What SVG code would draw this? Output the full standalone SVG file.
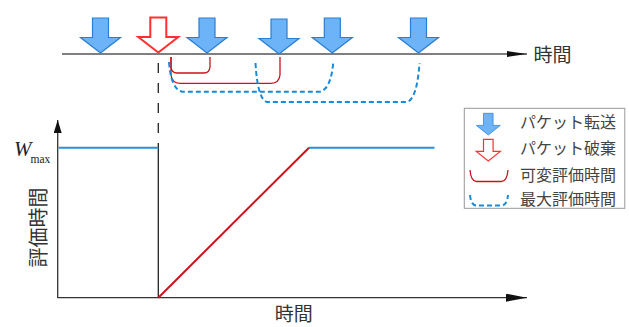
<svg xmlns="http://www.w3.org/2000/svg" xmlns:xlink="http://www.w3.org/1999/xlink" width="629" height="327" viewBox="0 0 629 327">
<style>
.axis{stroke:#555;stroke-width:1.5;fill:none}
.axis2{stroke:#333;stroke-width:1.3;fill:none}
.fwd{fill:#6db3f8;stroke:#2a7ed2;stroke-width:1.2}
.drop{fill:#fff;stroke:#ff3030;stroke-width:2}
.var{fill:none;stroke:#cc1020;stroke-width:1.3}
.max{fill:none;stroke:#1a8ad8;stroke-width:2;stroke-dasharray:5 3}
.lbl{font-family:"Noto Sans CJK JP","Noto Sans CJK SC",sans-serif;fill:#333}
.leg{font-family:"Noto Sans CJK JP","Noto Sans CJK SC",sans-serif;font-size:16px;fill:#444}
</style>
<defs>
<path id="arr" d="M-8,-35 H8 V-15.5 H20 L0,0 L-20,-15.5 H-8 Z"/>
<marker id="ah" viewBox="0 0 20 6" refX="20" refY="3" markerWidth="20" markerHeight="6" markerUnits="userSpaceOnUse" orient="auto"><path d="M0,0 L20,3 L0,6 Z" fill="#111"/></marker>
<marker id="ah2" viewBox="0 0 21 8" refX="21" refY="4" markerWidth="21" markerHeight="8" markerUnits="userSpaceOnUse" orient="auto"><path d="M0,0 L21,4 L0,8 Z" fill="#111"/></marker>
<marker id="ah3" viewBox="0 0 13 8" refX="13" refY="4" markerWidth="13" markerHeight="8" markerUnits="userSpaceOnUse" orient="auto"><path d="M0,0 L13,4 L0,8 Z" fill="#111"/></marker>
</defs>

<g id="timeline">
<line class="axis" x1="62" y1="54" x2="527" y2="54" marker-end="url(#ah)"/>
<text class="lbl" x="552.5" y="62" font-size="19" text-anchor="middle">時間</text>
</g>

<g id="packets">
<use xlink:href="#arr" class="fwd" transform="translate(100.5,53)"/>
<use xlink:href="#arr" class="drop" transform="translate(158.3,52.5)"/>
<use xlink:href="#arr" class="fwd" transform="translate(207,53)"/>
<use xlink:href="#arr" class="fwd" transform="translate(279,54)"/>
<use xlink:href="#arr" class="fwd" transform="translate(332.3,53)"/>
<use xlink:href="#arr" class="fwd" transform="translate(418.5,53)"/>
</g>

<g id="connectors">
<line x1="158.3" y1="63" x2="158.3" y2="148" stroke="#222" stroke-width="1.3" stroke-dasharray="10 10"/>
<path class="var" d="M171,57 V67 Q171.5,73 177,73 H204 Q209.5,73 210,67 V57"/>
<path class="var" d="M171,57 V75 Q172,83.3 180,83.3 H271 Q279,83.3 280,75 V57"/>
<path class="max" d="M169,62 Q171,89 182,91.7 H320 Q331,89 333.3,62"/>
<path class="max" d="M255.5,63 Q257.5,99 267,102 H407 Q417,99 419.5,63"/>
</g>

<g id="chart">
<line class="axis2" x1="57.7" y1="298" x2="57.7" y2="120" marker-end="url(#ah3)"/>
<line class="axis2" x1="57.7" y1="297.7" x2="527" y2="297.7" marker-end="url(#ah2)"/>
<line x1="158.3" y1="148" x2="158.3" y2="297.7" stroke="#222" stroke-width="1.3"/>
<line x1="58.5" y1="147.7" x2="158.3" y2="147.7" stroke="#2a8fd8" stroke-width="2"/>
<line x1="309" y1="147.7" x2="434.5" y2="147.7" stroke="#2a8fd8" stroke-width="2"/>
<line x1="158.3" y1="297.7" x2="309" y2="147.7" stroke="#d0101a" stroke-width="2"/>
<text x="14" y="156" font-family="Liberation Serif,serif" font-style="italic" font-size="21" fill="#222">W</text>
<text x="30.5" y="162.5" font-family="Liberation Serif,serif" font-size="11.5" fill="#222">max</text>
<text class="lbl" font-size="20" text-anchor="middle" transform="translate(45.5,227.5) rotate(-90)">評価時間</text>
<text class="lbl" x="293.7" y="321" font-size="19" text-anchor="middle">時間</text>
</g>

<g id="legend">
<rect x="464.3" y="108.3" width="160.5" height="100" fill="#fff" stroke="#999" stroke-width="1"/>
<use xlink:href="#arr" class="fwd" transform="translate(488.3,135) scale(0.6,0.62)"/>
<use xlink:href="#arr" class="drop" transform="translate(488.3,161) scale(0.6,0.62)" stroke-width="3"/>
<path class="var" d="M470,170 Q471,181.5 476.5,181.5 H501.5 Q507,181.5 508,170"/>
<path class="max" d="M470,195 Q471,205.5 476.5,205.5 H501.5 Q507,205.5 508,195" stroke-dasharray="4 3"/>
<text class="leg" x="520" y="127.5">パケット転送</text>
<text class="leg" x="520" y="154">パケット破棄</text>
<text class="leg" x="520" y="180.8">可変評価時間</text>
<text class="leg" x="520" y="205">最大評価時間</text>
</g>
</svg>
